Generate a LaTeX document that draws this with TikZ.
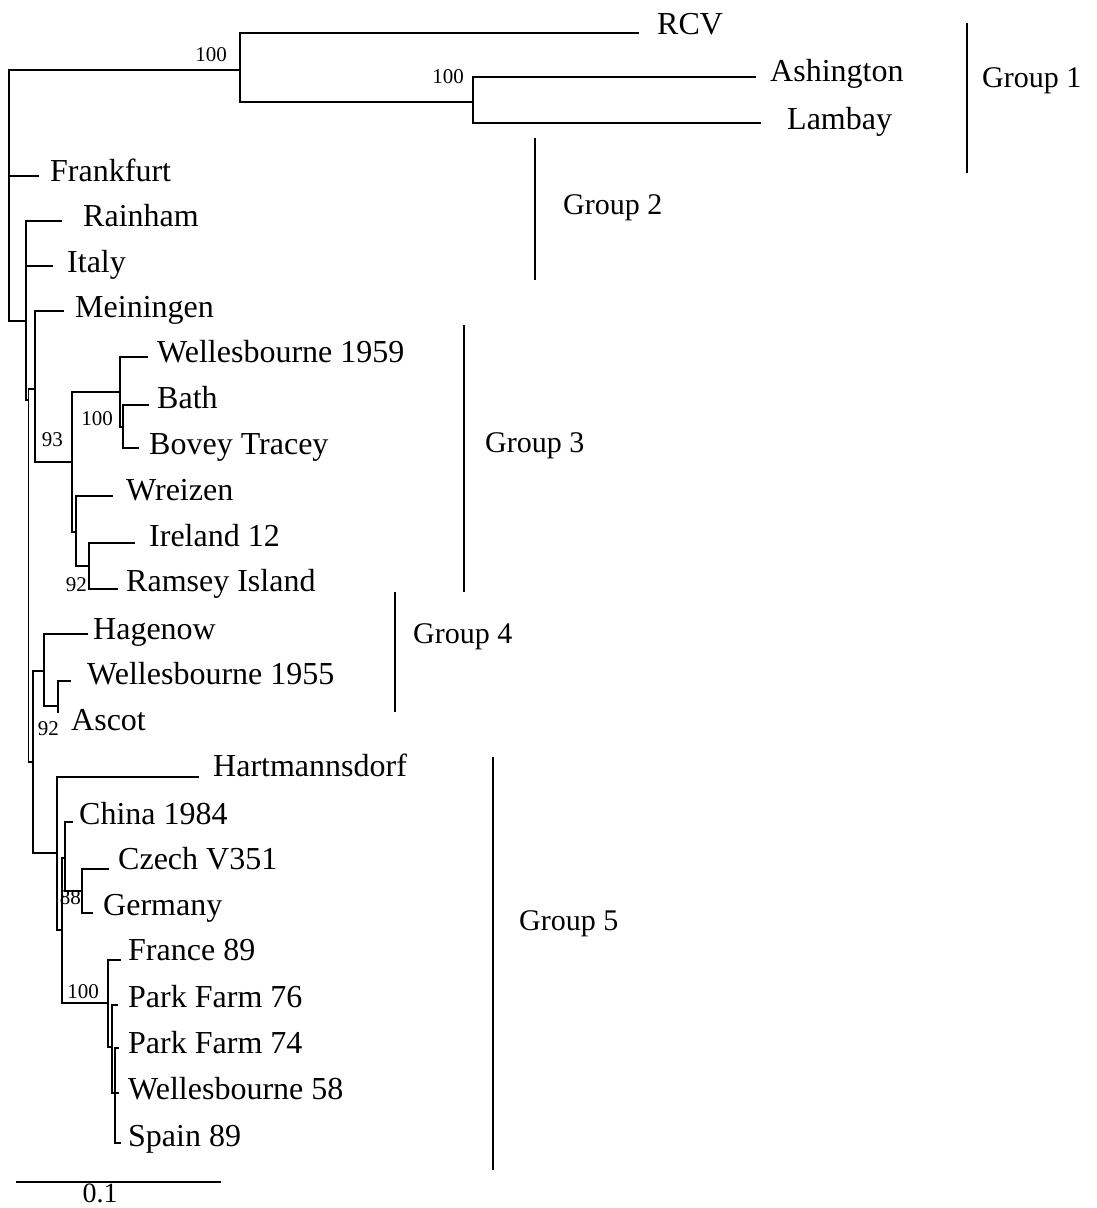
\documentclass[tikz,border=0pt]{standalone}
\usepackage{fontspec}
\setmainfont{Liberation Serif}
\begin{document}
\begin{tikzpicture}[x=1pt,y=-1pt,
  branch/.style={line width=1.4pt,line cap=rect},
  leaf/.style={anchor=west,inner sep=0pt,font=\fontsize{32}{32}\selectfont,text height=21pt,text depth=0pt},
  boot/.style={anchor=east,inner sep=0pt,font=\fontsize{21}{21}\selectfont,text height=14pt,text depth=0pt},
  groupbar/.style={line width=2.8pt},
  grouplabel/.style={anchor=west,inner sep=0pt,font=\fontsize{30}{30}\selectfont,text height=20pt,text depth=0pt}]
\useasboundingbox[fill=white] (0,0) rectangle (1097,1208);

% internal nodes of the tree
\coordinate (root) at (9,195);
\coordinate (g1)   at (240,70);
\coordinate (g1b)  at (473,102);
\coordinate (n1)   at (26,321);
\coordinate (n2)   at (28.5,400);
\coordinate (m)    at (35,389);
\coordinate (l)    at (72,462);
\coordinate (h)    at (120,392);
\coordinate (i)    at (123,427);
\coordinate (j)    at (76,532);
\coordinate (k)    at (89,566);
\coordinate (n3)   at (33,762);
\coordinate (hg)   at (44,671);
\coordinate (as)   at (58,706);
\coordinate (ha)   at (57,853);
\coordinate (hb)   at (62,930);
\coordinate (hc)   at (65,858);
\coordinate (hd)   at (82,891);
\coordinate (he)   at (108,1003);
\coordinate (hf)   at (112,1047);
\coordinate (hh)   at (115,1093);

% tips of the terminal branches
\coordinate (rcv)  at (638,33);
\coordinate (ash)  at (755,77);
\coordinate (lam)  at (760,123);
\coordinate (fra)  at (38,176);
\coordinate (rai)  at (61,221);
\coordinate (ita)  at (52,266);
\coordinate (mei)  at (63,311);
\coordinate (w59)  at (147,357);
\coordinate (bath) at (148,405);
\coordinate (bov)  at (138,448);
\coordinate (wre)  at (112,496);
\coordinate (ire)  at (134,543);
\coordinate (ram)  at (117,589);
\coordinate (hag)  at (87,634);
\coordinate (w55)  at (70,681);
\coordinate (asc)  at (58,712);
\coordinate (har)  at (198,777);
\coordinate (chi)  at (72,822);
\coordinate (cze)  at (108,869);
\coordinate (ger)  at (92,913);
\coordinate (fr89) at (120,960);
\coordinate (pf76) at (117,1005);
\coordinate (pf74) at (118,1048);
\coordinate (w58)  at (118,1093);
\coordinate (spa)  at (120,1143);

% branches
\draw[branch] (root) |- (g1)  (root) |- (fra)  (root) |- (n1);
\draw[branch] (g1) |- (rcv)  (g1) |- (g1b);
\draw[branch] (g1b) |- (ash)  (g1b) |- (lam);
\draw[branch] (n1) |- (rai)  (n1) |- (ita)  (n1) |- (n2);
\draw[branch] (n2) |- (m)  (n2) |- (n3);
\draw[branch] (m) |- (mei)  (m) |- (l);
\draw[branch] (l) |- (h)  (l) |- (j);
\draw[branch] (h) |- (w59)  (h) |- (i);
\draw[branch] (i) |- (bath)  (i) |- (bov);
\draw[branch] (j) |- (wre)  (j) |- (k);
\draw[branch] (k) |- (ire)  (k) |- (ram);
\draw[branch] (n3) |- (hg)  (n3) |- (ha);
\draw[branch] (hg) |- (hag)  (hg) |- (as);
\draw[branch] (as) |- (w55)  (as) |- (asc);
\draw[branch] (ha) |- (har)  (ha) |- (hb);
\draw[branch] (hb) |- (hc)  (hb) |- (he);
\draw[branch] (hc) |- (chi)  (hc) |- (hd);
\draw[branch] (hd) |- (cze)  (hd) |- (ger);
\draw[branch] (he) |- (fr89)  (he) |- (hf);
\draw[branch] (hf) |- (pf76)  (hf) |- (hh);
\draw[branch] (hh) |- (pf74)  (hh) |- (w58)  (hh) |- (spa);

% taxon names
\node[leaf] (t-rcv)  at (657,24)   {RCV};
\node[leaf] (t-ash)  at (770,71)   {Ashington};
\node[leaf] (t-lam)  at (787,119)  {Lambay};
\node[leaf] (t-fra)  at (50,171)   {Frankfurt};
\node[leaf] (t-rai)  at (83,216)   {Rainham};
\node[leaf] (t-ita)  at (67,262)   {Italy};
\node[leaf] (t-mei)  at (75,307)   {Meiningen};
\node[leaf] (t-w59)  at (157,352)  {Wellesbourne 1959};
\node[leaf] (t-bath) at (157,398)  {Bath};
\node[leaf] (t-bov)  at (149,444)  {Bovey Tracey};
\node[leaf] (t-wre)  at (126,490)  {Wreizen};
\node[leaf] (t-ire)  at (149,536)  {Ireland 12};
\node[leaf] (t-ram)  at (126,581)  {Ramsey Island};
\node[leaf] (t-hag)  at (93,629)   {Hagenow};
\node[leaf] (t-w55)  at (87,674)   {Wellesbourne 1955};
\node[leaf] (t-asc)  at (71,720)   {Ascot};
\node[leaf] (t-har)  at (213,766)  {Hartmannsdorf};
\node[leaf] (t-chi)  at (79,814)   {China 1984};
\node[leaf] (t-cze)  at (118,859)  {Czech V351};
\node[leaf] (t-ger)  at (103,905)  {Germany};
\node[leaf] (t-fr89) at (128,950)  {France 89};
\node[leaf] (t-pf76) at (128,997)  {Park Farm 76};
\node[leaf] (t-pf74) at (128,1043) {Park Farm 74};
\node[leaf] (t-w58)  at (128,1089) {Wellesbourne 58};
\node[leaf] (t-spa)  at (128,1136) {Spain 89};

% bootstrap values
\node[boot] (b-g1)  at (227,54)   {100};
\node[boot] (b-g1b) at (464,76)   {100};
\node[boot] (b-l)   at (63,439)   {93};
\node[boot] (b-i)   at (113,418)  {100};
\node[boot] (b-k)   at (87,584)   {92};
\node[boot] (b-as)  at (59,728)   {92};
\node[boot] (b-hd)  at (81,897)   {88};
\node[boot] (b-he)  at (99,991)   {100};

% group brackets
\coordinate (gb1t) at (967,23);   \coordinate (gb1b) at (967,173);
\coordinate (gb2t) at (535,138);  \coordinate (gb2b) at (535,280);
\coordinate (gb3t) at (464,325);  \coordinate (gb3b) at (464,592);
\coordinate (gb4t) at (395,592);  \coordinate (gb4b) at (395,712);
\coordinate (gb5t) at (493,757);  \coordinate (gb5b) at (493,1170);
\draw[groupbar] (gb1t) -- (gb1b);
\draw[groupbar] (gb2t) -- (gb2b);
\draw[groupbar] (gb3t) -- (gb3b);
\draw[groupbar] (gb4t) -- (gb4b);
\draw[groupbar] (gb5t) -- (gb5b);
\node[grouplabel] (gl1) at (982,77)  {Group 1};
\node[grouplabel] (gl2) at (563,204) {Group 2};
\node[grouplabel] (gl3) at (485,442) {Group 3};
\node[grouplabel] (gl4) at (413,633) {Group 4};
\node[grouplabel] (gl5) at (519,920) {Group 5};

% scale bar
\coordinate (sb1) at (17,1182);
\coordinate (sb2) at (220,1182);
\draw[branch] (sb1) -- (sb2);
\node[inner sep=0pt,font=\fontsize{28}{28}\selectfont,text height=19pt,text depth=0pt] (sbl) at (100,1193) {0.1};
\end{tikzpicture}
\end{document}
